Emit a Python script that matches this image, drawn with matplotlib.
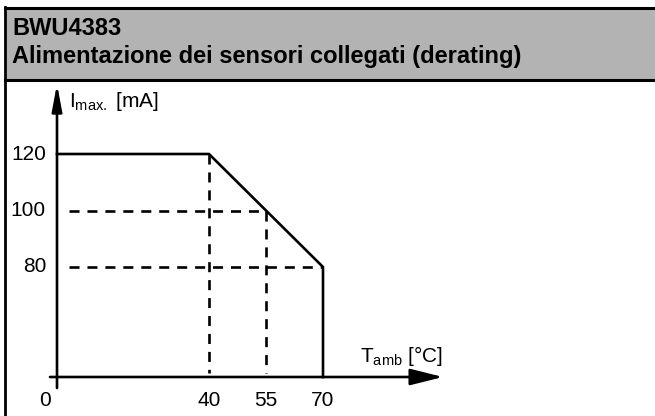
import matplotlib
matplotlib.use("Agg")
import matplotlib.pyplot as plt
from matplotlib.patches import Rectangle

# derating curve data
temps = [0, 40, 70]
currents = [120, 120, 80]
# reference (dashed) points on the curve
ref_temps = [40, 55]
ref_currents = [120, 100]
# axis labels
y_tick_vals = [120, 100, 80]
x_tick_vals = [0, 40, 55, 70]

title_1 = "BWU4383"
title_2 = "Alimentazione dei sensori collegati (derating)"
y_label = r"I$_{\mathrm{max.}}$ [mA]"
x_label = r"T$_{\mathrm{amb}}$ [°C]"

plt.rcParams["font.family"] = ["Liberation Sans", "DejaVu Sans"]
plt.rcParams["mathtext.fontset"] = "custom"
plt.rcParams["mathtext.rm"] = "Liberation Sans"
plt.rcParams["mathtext.it"] = "Liberation Sans:italic"

W, H = 655, 416
fig = plt.figure(figsize=(W / 100, H / 100), dpi=100)

# layout: pixel position of the origin and scale
x0_px, px_per_c = 57, 3.8
y80_px, px_per_ma = 267, 2.825


def dx(px):
    return (px - x0_px) / px_per_c


def dy(py):
    return 80 + (y80_px - py) / px_per_ma


ax = fig.add_axes([0, 0, 1, 1])
ax.set_xlim(dx(0), dx(W))
ax.set_ylim(dy(H), dy(0))
ax.axis("off")

# frame + grey header
fig.patches.append(Rectangle((6 / W, 1 - 80 / H), 1, 72 / H, transform=fig.transFigure,
                             facecolor="#b3b3b3", edgecolor="none", zorder=0))
fig.add_artist(plt.Line2D([5 / W, 1], [1 - 8 / H] * 2, color="black", lw=2.2))
fig.add_artist(plt.Line2D([5 / W, 1], [1 - 80 / H] * 2, color="black", lw=2.2))
fig.add_artist(plt.Line2D([5 / W] * 2, [0, 1 - 7 / H], color="black", lw=2.0))
fig.text(12 / W, 1 - 35 / H, title_1, fontsize=17, fontweight="bold", va="baseline")
fig.text(12 / W, 1 - 63 / H, title_2, fontsize=17, fontweight="bold", va="baseline")

x_axis_y = dy(377)
LW = 1.9

# axes arrows
ax.annotate("", xy=(dx(443), x_axis_y), xytext=(dx(50), x_axis_y),
            arrowprops=dict(arrowstyle="-|>,head_length=2.0,head_width=0.5",
                            lw=LW, color="black", shrinkA=0, shrinkB=0, mutation_scale=10))
ax.annotate("", xy=(0, dy(84)), xytext=(0, dy(388)),
            arrowprops=dict(arrowstyle="-|>,head_length=1.6,head_width=0.3",
                            lw=LW, color="black", shrinkA=0, shrinkB=0, mutation_scale=10))

# derating curve
ax.plot(temps + [temps[-1]], currents + [x_axis_y], color="black", lw=LW,
        solid_joinstyle="miter")

# dashed guides
dash = dict(color="black", lw=LW, dashes=(3.8, 3.0))
for t, c in zip(ref_temps, ref_currents):
    ax.plot([t, t], [c, x_axis_y + 1.5], **dash)
ax.plot([dx(69), ref_temps[1]], [ref_currents[1]] * 2, **dash)
ax.plot([dx(69), temps[-1]], [currents[-1]] * 2, **dash)

# tick labels
for v in y_tick_vals:
    ax.text(dx(46), v, str(v), fontsize=15, ha="right", va="center")
for v in x_tick_vals:
    xpos = v if v != 0 else dx(45)
    ax.text(xpos, dy(400), str(v), fontsize=15, ha="center", va="center")

ax.text(dx(69), dy(107), y_label, fontsize=15, ha="left", va="baseline")
ax.text(dx(443), dy(362), x_label, fontsize=15, ha="right", va="baseline")

fig.savefig("out.png", dpi=100)
